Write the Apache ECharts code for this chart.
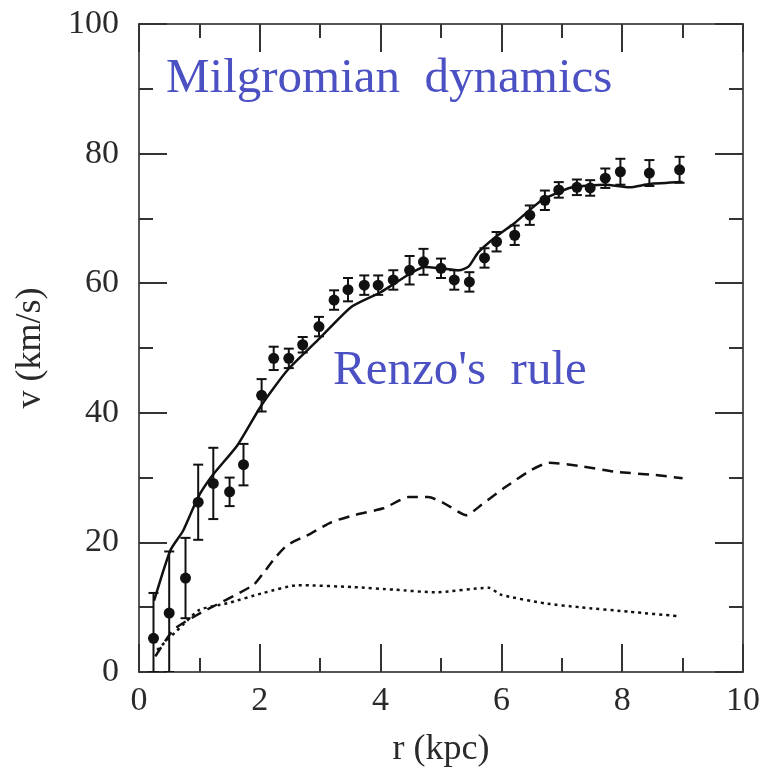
<!DOCTYPE html>
<html>
<head>
<meta charset="utf-8">
<script src="https://cdn.jsdelivr.net/npm/echarts@6/dist/echarts.min.js"></script>
<style>
  html, body { margin: 0; padding: 0; background: #fff; }
  #chart { width: 767px; height: 774px; }
</style>
</head>
<body>
<div id="chart"></div>
<script>
// Observed rotation curve: radius (kpc), velocity (km/s), error (km/s)
const obsR = [0.24, 0.50, 0.77, 0.98, 1.23, 1.50, 1.73, 2.03, 2.23, 2.48, 2.71, 2.98, 3.23, 3.46, 3.73, 3.96, 4.21, 4.48, 4.71, 5.00, 5.22, 5.47, 5.72, 5.92, 6.22, 6.47, 6.72, 6.95, 7.25, 7.47, 7.72, 7.97, 8.45, 8.95];
const obsV = [5.2, 9.1, 14.5, 26.2, 29.1, 27.8, 32.0, 42.7, 48.4, 48.4, 50.5, 53.3, 57.4, 59.0, 59.7, 59.7, 60.5, 62.0, 63.3, 62.3, 60.5, 60.2, 63.9, 66.4, 67.4, 70.5, 72.8, 74.4, 74.8, 74.7, 76.2, 77.2, 77.0, 77.5];
const obsErr = [7.0, 9.5, 6.2, 5.8, 5.5, 2.2, 3.2, 2.5, 1.8, 1.5, 1.2, 1.5, 1.5, 1.8, 1.5, 1.5, 1.5, 2.2, 2.0, 1.5, 1.5, 1.5, 1.5, 1.5, 1.5, 1.5, 1.5, 1.2, 1.2, 1.2, 1.5, 2.0, 2.0, 2.0];

// Milgromian model curve
const mondR = [0.25, 0.52, 0.73, 0.98, 1.23, 1.63, 2.03, 2.46, 2.96, 3.51, 4.00, 4.46, 4.72, 5.00, 5.30, 5.46, 5.62, 5.90, 6.22, 6.67, 7.17, 7.72, 8.12, 8.45, 9.00];
const mondV = [11.0, 18.8, 21.8, 27.0, 30.5, 35.0, 41.2, 46.6, 51.2, 56.3, 58.6, 61.3, 62.5, 62.3, 62.0, 62.6, 64.8, 67.1, 69.3, 72.8, 74.8, 75.2, 74.8, 75.3, 75.6];

// Gas contribution (dashed)
const gasR = [0.27, 0.57, 0.96, 1.89, 2.07, 2.26, 2.46, 2.85, 3.18, 3.56, 4.06, 4.46, 4.79, 5.06, 5.42, 5.67, 6.06, 6.50, 6.79, 7.29, 7.89, 8.55, 9.00];
const gasV = [2.4, 6.5, 8.8, 13.4, 15.4, 17.7, 19.6, 21.4, 23.1, 24.2, 25.3, 27.0, 27.0, 26.0, 24.2, 25.8, 28.5, 31.2, 32.3, 31.8, 30.9, 30.4, 29.9];

// Stellar contribution (dotted)
const starR = [0.30, 0.73, 1.00, 1.46, 2.06, 2.63, 3.56, 4.23, 4.90, 5.79, 6.00, 6.72, 7.29, 8.12, 8.95];
const starV = [3.4, 7.3, 9.6, 10.6, 12.2, 13.4, 13.1, 12.7, 12.3, 13.0, 11.9, 10.6, 10.0, 9.3, 8.6];

const xTicks = { min: 0, max: 10, step: 2 };
const yTicks = { min: 0, max: 100, step: 20 };

const pairs = (xs, ys) => xs.map((x, i) => [x, ys[i]]);

const serif = '"Liberation Serif", "DejaVu Serif", serif';
const ink = '#111';
const frame = '#555';
const labelInk = '#2a2a2a';

function axisCommon(showLabel, margin) {
  return {
    type: 'value',
    axisLine: { show: true, onZero: false, lineStyle: { color: frame, width: 2 } },
    axisTick: { show: true, inside: true, length: 28, lineStyle: { color: '#333', width: 2 } },
    minorTick: { show: true, splitNumber: 2, length: 14, lineStyle: { color: '#333', width: 2 } },
    splitLine: { show: false },
    minorSplitLine: { show: false },
    axisLabel: { show: showLabel, margin: margin || 8, fontFamily: serif, fontSize: 34, color: labelInk }
  };
}

const chart = echarts.init(document.getElementById('chart'), null, { renderer: 'canvas' });

const option = {
  animation: false,
  backgroundColor: '#fff',
  grid: { left: 139, right: 24, top: 24, bottom: 102, containLabel: false },
  xAxis: [
    Object.assign(axisCommon(true, 12), {
      position: 'bottom', min: xTicks.min, max: xTicks.max, interval: xTicks.step,
      name: 'r (kpc)', nameLocation: 'middle', nameGap: 60,
      nameTextStyle: { fontFamily: serif, fontSize: 36, color: labelInk }
    }),
    Object.assign(axisCommon(false), {
      position: 'top', min: xTicks.min, max: xTicks.max, interval: xTicks.step
    })
  ],
  yAxis: [
    Object.assign(axisCommon(true, 20), {
      position: 'left', min: yTicks.min, max: yTicks.max, interval: yTicks.step,
      name: 'v (km/s)', nameLocation: 'middle', nameGap: 90, nameRotate: 90,
      nameTextStyle: { fontFamily: serif, fontSize: 36, color: labelInk }
    }),
    Object.assign(axisCommon(false), {
      position: 'right', min: yTicks.min, max: yTicks.max, interval: yTicks.step
    })
  ],
  graphic: [
    {
      type: 'text', left: 166, top: 55,
      style: { text: 'Milgromian  dynamics', font: '49px ' + serif, fill: '#4b50c3' }
    },
    {
      type: 'text', left: 333, top: 347,
      style: { text: "Renzo's  rule", font: '49px ' + serif, fill: '#4b50c3' }
    }
  ],
  series: [
    {
      name: 'model', type: 'line', data: pairs(mondR, mondV),
      showSymbol: false, smooth: 0.2,
      lineStyle: { color: ink, width: 2.5 }, z: 3
    },
    {
      name: 'gas', type: 'line', data: pairs(gasR, gasV),
      showSymbol: false, smooth: 0.2,
      lineStyle: { color: ink, width: 2.5, type: [11, 7] }, z: 3
    },
    {
      name: 'stars', type: 'line', data: pairs(starR, starV),
      showSymbol: false, smooth: 0.2,
      lineStyle: { color: ink, width: 2.5, type: [3, 4] }, z: 3
    },
    {
      name: 'errors', type: 'custom', clip: true,
      data: obsR.map((r, i) => [r, Math.max(0, obsV[i] - obsErr[i]), obsV[i] + obsErr[i]]),
      renderItem: function (params, api) {
        const lo = api.coord([api.value(0), api.value(1)]);
        const hi = api.coord([api.value(0), api.value(2)]);
        const cap = 5;
        const style = { stroke: ink, lineWidth: 2 };
        return {
          type: 'group',
          children: [
            { type: 'line', shape: { x1: lo[0], y1: lo[1], x2: hi[0], y2: hi[1] }, style: style },
            { type: 'line', shape: { x1: lo[0] - cap, y1: lo[1], x2: lo[0] + cap, y2: lo[1] }, style: style },
            { type: 'line', shape: { x1: hi[0] - cap, y1: hi[1], x2: hi[0] + cap, y2: hi[1] }, style: style }
          ]
        };
      },
      z: 4
    },
    {
      name: 'observed', type: 'scatter', data: pairs(obsR, obsV),
      symbol: 'circle', symbolSize: 11,
      itemStyle: { color: ink, opacity: 1 }, z: 5
    }
  ]
};

chart.setOption(option);
</script>
</body>
</html>
